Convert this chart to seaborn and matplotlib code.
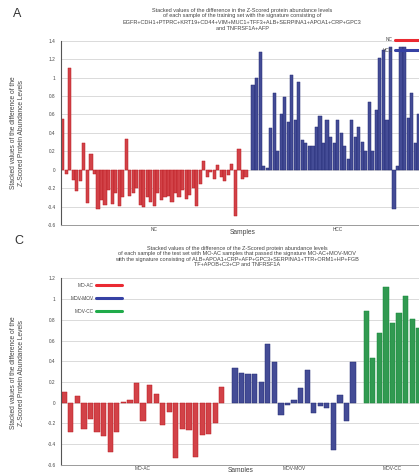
import matplotlib
matplotlib.use("Agg")
import matplotlib.pyplot as plt
import pandas as pd
import seaborn as sns
from matplotlib.lines import Line2D

# ---------------- Panel A data ----------------
a_groups = ["NC", "HCC"]
a_nc = [0.55, -0.05, 1.11, -0.11, -0.23, -0.12, 0.29, -0.36, 0.17, -0.05,
        -0.43, -0.33, -0.38, -0.22, -0.37, -0.25, -0.39, -0.30, 0.33, -0.29,
        -0.25, -0.20, -0.38, -0.40, -0.30, -0.35, -0.39, -0.25, -0.33, -0.30,
        -0.28, -0.35, -0.25, -0.30, -0.22, -0.32, -0.27, -0.20, -0.39, -0.15,
        0.10, -0.08, -0.02, -0.10, 0.05, -0.08, -0.12, -0.06, 0.06, -0.50,
        0.22, -0.10, -0.08]
a_hcc = [0.92, 1.00, 1.28, 0.04, 0.02, 0.45, 0.83, 0.20, 0.60, 0.79,
         0.52, 1.03, 0.54, 0.95, 0.32, 0.29, 0.26, 0.26, 0.46, 0.58,
         0.29, 0.54, 0.36, 0.29, 0.54, 0.40, 0.26, 0.12, 0.54, 0.36,
         0.46, 0.30, 0.20, 0.74, 0.20, 0.65, 1.21, 1.30, 0.54, 1.33,
         -0.43, 0.04, 1.33, 1.33, 0.56, 0.83, 0.29, 0.60, 0.35]
a_yticks = [-0.6, -0.4, -0.2, 0, 0.2, 0.4, 0.6, 0.8, 1, 1.2, 1.4]
a_yticklabels = ["-0.6", "-0.4", "-0.2", "0", "0.2", "0.4", "0.6", "0.8", "1", "1.2", "1.4"]

# ---------------- Panel C data ----------------
c_groups = ["MO-AC", "MOV-MOV", "MOV-CC"]
c_moac = [0.10, -0.28, 0.06, -0.25, -0.16, -0.28, -0.32, -0.48, -0.28, 0.01,
          0.03, 0.19, -0.18, 0.17, 0.08, -0.22, -0.09, -0.53, -0.25, -0.26,
          -0.52, -0.31, -0.30, -0.20, 0.15]
c_movmov = [0.33, 0.29, 0.28, 0.28, 0.20, 0.57, 0.39, -0.12, -0.02, 0.03,
            0.14, 0.32, -0.10, -0.03, -0.05, -0.46, 0.07, -0.18, 0.39]
c_movcc = [0.89, 0.43, 0.67, 1.12, 0.77, 0.87, 1.03, 0.81, 0.72]
c_yticks = [-0.6, -0.4, -0.2, 0, 0.2, 0.4, 0.6, 0.8, 1, 1.2]
c_yticklabels = ["-0.6", "-0.4", "-0.2", "0", "0.2", "0.4", "0.6", "0.8", "1", "1.2"]

colors = {"NC": "#ea2a32", "HCC": "#3641a4",
          "MO-AC": "#ea2a32", "MOV-MOV": "#3641a4", "MOV-CC": "#20ab4a"}
edges = {"NC": "#bb1a20", "HCC": "#222a74",
         "MO-AC": "#bb1a20", "MOV-MOV": "#222a74", "MOV-CC": "#16883a"}

TXT = "#444444"
FONT = ["Liberation Sans", "DejaVu Sans"]


def build(groups, series):
    rows, order, centers = [], [], []
    for gi, (g, vals) in enumerate(zip(groups, series)):
        if gi > 0:
            order.append(f"gap{gi}")
        start = len(order)
        for i, v in enumerate(vals):
            name = f"{g}_{i}"
            order.append(name)
            rows.append({"slot": name, "value": v, "group": g})
        centers.append((start + len(order) - 1) / 2)
    return pd.DataFrame(rows), order, centers


def draw(ax, groups, series, width, yticks, ylabels, ylim):
    df, order, centers = build(groups, series)
    sns.barplot(data=df, x="slot", y="value", hue="group", order=order,
                hue_order=groups, palette=colors, dodge=False, errorbar=None,
                width=width, legend=False, ax=ax, zorder=2)
    for cont, g in zip(ax.containers, groups):
        for bar in cont:
            bar.set_edgecolor(edges[g])
            bar.set_linewidth(0.35)
    ax.set_xlim(-0.5, len(order) - 0.5 + 0.3)
    ax.set_ylim(*ylim)
    ax.set_yticks(yticks)
    ax.set_yticklabels(ylabels)
    ax.set_xticks(centers)
    ax.set_xticklabels(groups)
    ax.yaxis.grid(True, color="#d4d4d4", lw=0.6)
    ax.xaxis.grid(False)
    ax.set_axisbelow(True)
    for s in ["top", "right"]:
        ax.spines[s].set_visible(False)
    ax.spines["left"].set_color("#555555")
    ax.spines["left"].set_linewidth(0.8)
    ax.spines["bottom"].set_color("#9a9a9a")
    ax.spines["bottom"].set_linewidth(0.7)
    ax.tick_params(axis="y", length=2.5, width=0.6, color="#555555",
                   labelsize=3.4, labelcolor=TXT, pad=1.5)
    ax.tick_params(axis="x", length=0, labelsize=3.4, labelcolor=TXT, pad=1.2)
    ax.set_xlabel("")
    ax.set_ylabel("")


sns.set_theme(style="white")
plt.rcParams["font.family"] = FONT

W, H = 419, 472
fig = plt.figure(figsize=(W / 100, H / 100), dpi=100)


def axrect(x0, x1, ytop, ybot):
    return [x0 / W, 1 - ybot / H, (x1 - x0) / W, (ybot - ytop) / H]


# ---------- Panel A ----------
axA = fig.add_axes(axrect(61, 425, 40.8, 225))
draw(axA, a_groups, [a_nc, a_hcc], 0.9, a_yticks, a_yticklabels, (-0.6, 1.4))
hA = [Line2D([], [], color=colors[g], lw=2.2) for g in a_groups]
legA = axA.legend(hA, a_groups, loc="upper right", bbox_to_anchor=(1.0, 1.03),
                  frameon=False, markerfirst=False, fontsize=3.4,
                  handlelength=6, labelspacing=1.2, borderaxespad=0,
                  handletextpad=0.4)
for t in legA.get_texts():
    t.set_color(TXT)

fig.text(17 / W, 1 - 14 / H, "A", fontsize=9, color="#333333",
         ha="center", va="center")
titleA = ["Stacked values of the difference in the Z-Scored protein abundance levels",
          "of each sample of the training set with the signature consisting of",
          "EGFR+CDH1+PTPRC+KRT19+CD44+VIM+MUC1+TFF3+ALB+SERPINA1+APOA1+CRP+GPC3",
          "and TNFRSF1A+AFP"]
for line, y in zip(titleA, [10.5, 16, 22, 28]):
    fig.text(242 / W, 1 - y / H, line, fontsize=4.0, color=TXT,
             ha="center", va="center")
fig.text(14 / W, 1 - 133 / H, "Stacked values of the difference of the",
         rotation=90, fontsize=4.8, color=TXT, ha="center", va="center")
fig.text(21.5 / W, 1 - 133 / H, "Z-Scored Protein Abundance Levels",
         rotation=90, fontsize=4.8, color=TXT, ha="center", va="center")
fig.text(243 / W, 1 - 233 / H, "Samples", fontsize=4.8, color=TXT,
         ha="center", va="center")

# ---------- Panel C ----------
axC = fig.add_axes(axrect(61, 424, 278.4, 464.8))
draw(axC, c_groups, [c_moac, c_movmov, c_movcc], 0.8, c_yticks,
     c_yticklabels, (-0.6, 1.2))
hC = [Line2D([], [], color=colors[g], lw=2.2) for g in c_groups]
legC = axC.legend(hC, c_groups, loc="upper left", bbox_to_anchor=(0.02, 0.985),
                  frameon=False, markerfirst=False, fontsize=3.4,
                  handlelength=5.5, labelspacing=1.7, borderaxespad=0,
                  handletextpad=0.6)
for t in legC.get_texts():
    t.set_color(TXT)

fig.text(19 / W, 1 - 241 / H, "C", fontsize=9, color="#333333",
         ha="center", va="center")
titleC = ["Stacked values of the difference of the Z-Scored protein abundance levels",
          "of each sample of the test set with MO-AC samples that passed the signature MO-AC+MOV-MOV",
          "with the signature consisting of ALB+APOA1+CRP+AFP+GPC3+SERPINA1+TTR+ORM1+HP+FGB",
          "TF+APOB+C3+CP and TNFRSF1A"]
for line, y in zip(titleC, [248, 253.5, 259, 264.5]):
    fig.text(237 / W, 1 - y / H, line, fontsize=4.0, color=TXT,
             ha="center", va="center")
fig.text(14 / W, 1 - 373 / H, "Stacked values of the difference of the",
         rotation=90, fontsize=4.8, color=TXT, ha="center", va="center")
fig.text(21.5 / W, 1 - 373 / H, "Z-Scored Protein Abundance Levels",
         rotation=90, fontsize=4.8, color=TXT, ha="center", va="center")
fig.text(241 / W, 1 - 470 / H, "Samples", fontsize=4.8, color=TXT,
         ha="center", va="center")

fig.savefig("out.png", dpi=100)
